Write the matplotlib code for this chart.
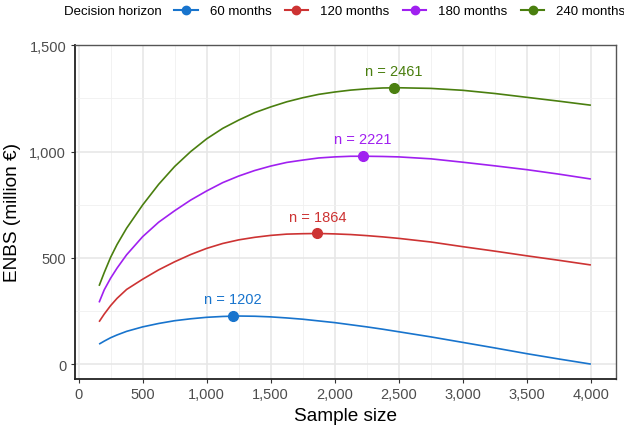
import matplotlib
matplotlib.use("Agg")
import matplotlib.pyplot as plt
from matplotlib.lines import Line2D
from matplotlib.ticker import FuncFormatter, MultipleLocator

plt.rcParams['font.family'] = ['Liberation Sans', 'DejaVu Sans']

# ---- data ----
sample_size = [160, 200, 250, 300, 375, 500, 625, 750, 875, 1000, 1125, 1250, 1375,
               1500, 1625, 1750, 1875, 2000, 2125, 2250, 2375, 2500, 2750, 3000,
               3250, 3500, 3750, 4000]
enbs_60 = [95, 109, 125, 138, 155, 176, 192, 205, 214, 221, 225, 227, 226,
           223, 218, 212, 204, 196, 186, 176, 165, 153, 129, 103, 77, 50, 25, 1]
enbs_120 = [200, 236, 276, 310, 352, 400, 444, 482, 516, 545, 568, 585, 597,
            606, 612, 614, 615, 613, 610, 605, 599, 592, 575, 553, 532, 510, 489, 467]
enbs_180 = [291, 350, 405, 452, 515, 600, 668, 722, 772, 815, 854, 885, 911,
            932, 949, 960, 970, 975, 978, 978, 977, 975, 966, 950, 933, 915, 894, 871]
enbs_240 = [369, 431, 503, 563, 640, 749, 846, 930, 1000, 1060, 1109, 1148, 1183,
            1210, 1234, 1253, 1269, 1280, 1289, 1295, 1299, 1300, 1297, 1288,
            1273, 1255, 1237, 1218]

horizons = ["60 months", "120 months", "180 months", "240 months"]
peak_n = [1202, 1864, 2221, 2461]
peak_enbs = [227, 615, 979, 1300]
colors = ["#1874CD", "#CD3333", "#A020F0", "#4A7F0F"]
series = [enbs_60, enbs_120, enbs_180, enbs_240]

x_ticks = [0, 500, 1000, 1500, 2000, 2500, 3000, 3500, 4000]
y_ticks = [0, 500, 1000, 1500]

W, H = 624, 435
fig = plt.figure(figsize=(W / 100, H / 100), dpi=100)
ax = fig.add_axes([74.5 / W, 1 - 380 / H, (615.5 - 74.5) / W, (380 - 46) / H])

for vals, col in zip(series, colors):
    ax.plot(sample_size, vals, color=col, lw=1.2, zorder=3,
            solid_joinstyle='round', solid_capstyle='butt')
for n, v, col in zip(peak_n, peak_enbs, colors):
    ax.plot([n], [v], 'o', color=col, ms=7, zorder=4)
    ax.annotate(f"n = {n}", (n, v), xytext=(0, 12.2), textcoords='offset points',
                ha='center', va='center', color=col, fontsize=10.5)

ax.set_xlim(-32, 4192)
ax.set_ylim(-69, 1501)
ax.set_xticks(x_ticks)
ax.set_yticks(y_ticks)
ax.xaxis.set_minor_locator(MultipleLocator(250))
ax.yaxis.set_minor_locator(MultipleLocator(250))
fmt = FuncFormatter(lambda v, p: f"{int(v):,}")
ax.xaxis.set_major_formatter(fmt)
ax.yaxis.set_major_formatter(fmt)
ax.grid(True, which='major', color='#E6E6E6', lw=1.1, zorder=0)
ax.grid(True, which='minor', color='#F0F0F0', lw=0.6, zorder=0)
ax.set_axisbelow(True)
ax.tick_params(which='major', length=3, width=0.8, color='#333333',
               labelsize=10.5, labelcolor='#4D4D4D', pad=3)
ax.tick_params(which='minor', length=0)
for s in ['left', 'bottom']:
    ax.spines[s].set_color('#222222')
    ax.spines[s].set_linewidth(1.3)
for s in ['top', 'right']:
    ax.spines[s].set_color('#555555')
    ax.spines[s].set_linewidth(1.0)

ax.set_xlabel("Sample size", fontsize=13.7, labelpad=4)
ax.set_ylabel("ENBS (million €)", fontsize=13.7, labelpad=6)

# legend on top
fig.text(64 / W, 1 - 12 / H, "Decision horizon", fontsize=9.5, ha='left', va='center')
handles = [Line2D([0], [0], color=c, lw=1.5, marker='o', ms=6) for c in colors]
fig.legend(handles, horizons, loc='center left', bbox_to_anchor=(174 / W, 1 - 12 / H),
           ncol=4, frameon=False, fontsize=9.5, handlelength=1.8, handletextpad=0.9,
           columnspacing=1.0, borderpad=0, borderaxespad=0)

fig.savefig("out.png", dpi=100)
